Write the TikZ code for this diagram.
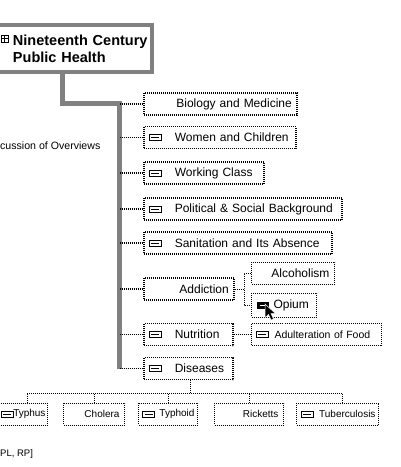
\documentclass[tikz,border=0pt]{standalone}
\usepackage{fontspec}
\setmainfont{Liberation Sans}
\usepackage{tikz}
\usetikzlibrary{arrows.meta,positioning,calc}

\begin{document}
\begin{tikzpicture}[
  x=1pt, y=-1pt,
  title/.style={draw=gray, line width=4pt, align=left, inner xsep=3pt,
                text width=#1, minimum height=47pt,
                font=\fontsize{14.5}{17}\selectfont\bfseries},
  topic/.style={draw, line width=1.6pt, dash pattern=on 1pt off 1pt,
                minimum height=22pt, inner xsep=5pt, inner ysep=0pt,
                anchor=west, text width=#1, align=right,
                font=\fontsize{12}{14}\selectfont},
  itopic/.style={topic=#1, align=left},
  leaf/.style={draw, line width=1pt, dash pattern=on 1pt off 1pt,
               minimum height=22pt, inner xsep=5pt, inner ysep=0pt,
               anchor=west, text width=#1, align=right,
               font=\fontsize{12}{14}\selectfont},
  ileaf/.style={leaf=#1, align=left},
  small/.style={font=\fontsize{10}{12}\selectfont},
  icon/.style={draw, line width=0.8pt, minimum width=12pt,
               minimum height=6pt, inner sep=0pt,
               path picture={\draw[line width=0.8pt]
                 ([xshift=2pt]path picture bounding box.west) --
                 ([xshift=-2pt]path picture bounding box.east);}},
  ficon/.style={draw, fill=black, line width=0.8pt, minimum width=11pt,
                minimum height=6pt, inner sep=0pt,
                path picture={\draw[white, line width=0.8pt]
                  ([xshift=2pt]path picture bounding box.west) --
                  ([xshift=-2pt]path picture bounding box.east);}},
  plusicon/.style={draw, line width=0.7pt, minimum size=7pt, inner sep=0pt,
                   path picture={\draw[line width=0.7pt]
                     (path picture bounding box.west) -- (path picture bounding box.east)
                     (path picture bounding box.north) -- (path picture bounding box.south);}},
  trunk/.style={draw=gray, line width=5pt},
  branch/.style={line width=1.2pt, dash pattern=on 1pt off 1pt},
  leafline/.style={line width=1pt, dash pattern=on 1pt off 1pt},
  note/.style={anchor=west, inner sep=0pt},
]
  \useasboundingbox (0,0) rectangle (401,467);
  \clip (0,0) rectangle (401,467);

  % Title node
  \node[title=164pt, anchor=north west] (title) at (-20,23)
    {\hspace*{28pt}Nineteenth Century\\\hspace*{28pt}Public Health};
  \node[plusicon] (i-title) at (4.5,38.5) {};

  % Main topics
  \node[topic=143pt] (bio) at (143,104) {Biology and Medicine};
  \node[itopic=142pt] (women) at (143,137.5) {\hspace*{26pt}Women and Children};
  \node[itopic=110pt] (working) at (143,173) {\hspace*{26pt}Working Class};
  \node[itopic=188pt] (political) at (143,209)
    {\hspace*{26pt}Political \& Social Background};
  \node[itopic=178pt] (sanitation) at (143,243)
    {\hspace*{26pt}Sanitation and Its Absence};
  \node[topic=80pt] (addiction) at (143,289) {Addiction};
  \node[itopic=79pt] (nutrition) at (143,334.5) {\hspace*{26pt}Nutrition};
  \node[itopic=79pt] (diseases) at (143,368.5) {\hspace*{26pt}Diseases};

  \foreach \n in {women,working,political,sanitation,nutrition,diseases}
    \node[icon] (i-\n) at ([xshift=12pt]\n.west) {};

  % Sub topics
  \node[leaf=73pt] (alcohol) at (251,273) {Alcoholism};
  \node[ileaf=55pt, minimum height=24pt] (opium) at (251,305)
    {\hspace*{17pt}Opium};
  \node[ileaf=120pt, font=\fontsize{10.5}{12}\selectfont] (adult) at (251,334.5)
    {\hspace*{18pt}Adulteration of Food};
  \node[ficon] (i-opium) at ([xshift=12pt]opium.west) {};
  \node[icon] (i-adult) at ([xshift=11pt]adult.west) {};

  % Diseases row
  \node[leaf=53pt, small, inner xsep=2pt] (typhus) at (-10,414) {Typhus};
  \node[leaf=51pt, small] (cholera) at (63,414) {Cholera};
  \node[leaf=53pt, small, inner xsep=3pt] (typhoid) at (138,414) {Typhoid};
  \node[leaf=59pt, small] (ricketts) at (214,414) {Ricketts};
  \node[leaf=76pt, small, inner xsep=3pt] (tuber) at (296,414) {Tuberculosis};
  \node[icon] (i-typhus) at ([xshift=17pt]typhus.west) {};
  \node[icon] (i-typhoid) at ([xshift=10.5pt]typhoid.west) {};
  \node[icon] (i-tuber) at ([xshift=11pt]tuber.west) {};

  % Side texts
  \node[note, font=\fontsize{10.6}{12}\selectfont] (overv) at (0,146)
    {cussion of Overviews};
  \node[note, font=\fontsize{9.5}{11}\selectfont] (refs) at (0,454) {PL, RP]};

  % Trunk
  \coordinate (tj) at (62,103);
  \coordinate (ttop) at (119.5,103);
  \coordinate (tbot) at (119.5,368.5);
  \draw[trunk] (title.south -| tj) -- (tj) -- (ttop) -- (tbot);
  \foreach \n in {bio,women,working,political,sanitation,addiction,nutrition,diseases}
    \draw[branch] (\n.west -| ttop) -- (\n.west);

  % Addiction and nutrition links
  \coordinate (aj) at (244,289);
  \draw[leafline] (addiction.east) -- (aj);
  \draw[leafline] (alcohol.west) -| (aj) |- (opium.west);
  \draw[leafline] (nutrition.east) -- (adult.west);

  % Diseases bus
  \coordinate (bus) at (190,393);
  \draw[leafline] ([xshift=2.5pt]diseases.south) -- ([xshift=2.5pt]diseases.south |- bus);
  \draw[leafline] ([xshift=8pt]typhus.north |- bus) -- ([xshift=5pt]tuber.north |- bus);
  \draw[leafline] ([xshift=8pt]typhus.north) -- ([xshift=8pt]typhus.north |- bus);
  \foreach \d in {cholera,typhoid,ricketts}
    \draw[leafline] (\d.north) -- (\d.north |- bus);
  \draw[leafline] ([xshift=5pt]tuber.north) -- ([xshift=5pt]tuber.north |- bus);

  % Mouse pointer
  \filldraw[fill=black, draw=white, line width=0.5pt]
    (265,304) -- (265,318) -- (268.5,314.5) -- (271,320) -- (273.5,319)
    -- (271,313.5) -- (275.5,313.5) -- cycle;
\end{tikzpicture}
\end{document}
